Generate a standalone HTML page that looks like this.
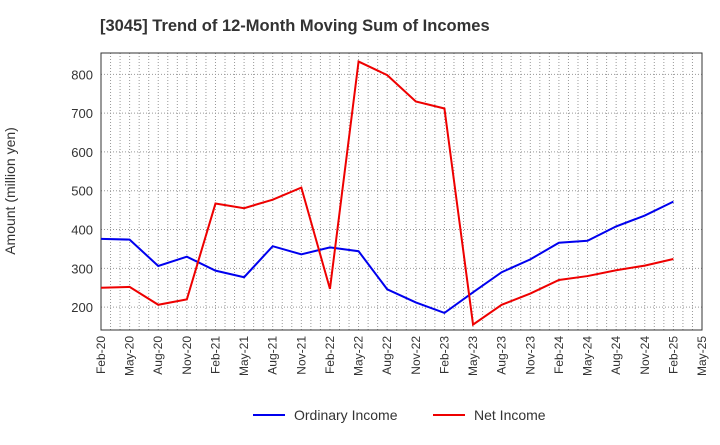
<!DOCTYPE html>
<html><head><meta charset="utf-8"><style>
body{margin:0;background:#fff;font-family:"Liberation Sans",sans-serif;}
</style></head><body>
<svg width="720" height="440" xmlns="http://www.w3.org/2000/svg">
<text x="100" y="31" font-size="16.5" font-weight="bold" fill="#333">[3045]  Trend of 12-Month Moving Sum of Incomes</text>
<text transform="translate(15,191) rotate(-90)" text-anchor="middle" font-size="14" fill="#333">Amount (million yen)</text>
<g id="grid"></g><g id="axes"></g><g id="series"></g>
<g>
<line x1="253" y1="415" x2="285" y2="415" stroke="#0000ee" stroke-width="2"/>
<text x="294" y="420" font-size="14" fill="#333">Ordinary Income</text>
<line x1="433" y1="415" x2="465" y2="415" stroke="#ee0000" stroke-width="2"/>
<text x="474" y="420" font-size="14" fill="#333">Net Income</text>
</g>
</svg>
<script>
const categories=["Feb-20","May-20","Aug-20","Nov-20","Feb-21","May-21","Aug-21","Nov-21","Feb-22","May-22","Aug-22","Nov-22","Feb-23","May-23","Aug-23","Nov-23","Feb-24","May-24","Aug-24","Nov-24","Feb-25","May-25"];
const ordinaryIncome=[376,374,306,330,294,277,357,336,354,344,246,212,185,238,290,323,366,371,408,436,472];
const netIncome=[250,252,206,220,467,455,477,508,247,833,798,730,712,155,206,235,270,280,295,307,324];
const yTicks=[200,300,400,500,600,700,800];
const NS="http://www.w3.org/2000/svg";
const L=101,R=702,T=53,B=330,yMin=141,yMax=855;
const xs=i=>L+(R-L)*i/(categories.length-1);
const ys=v=>B-(v-yMin)/(yMax-yMin)*(B-T);
function mk(tag,at,parent){const e=document.createElementNS(NS,tag);for(const k in at)e.setAttribute(k,at[k]);document.getElementById(parent).appendChild(e);return e;}
for(let m=1;m<(categories.length-1)*3;m++){const x=L+(R-L)*m/((categories.length-1)*3);
const g=mk('line',{x1:x,y1:T,x2:x,y2:B,stroke:'#999','stroke-dasharray':'1,2','stroke-width':1},'grid');

}
yTicks.forEach(v=>{const g=mk('line',{x1:L,y1:ys(v),x2:R,y2:ys(v),stroke:'#999','stroke-dasharray':'1,2'},'grid');


const t=mk('text',{x:L-8,y:ys(v)+5,'text-anchor':'end','font-size':13,fill:'#333'},'axes');t.textContent=v;

});
categories.forEach((c,i)=>{const t=mk('text',{transform:`translate(${xs(i)+4},${B+6}) rotate(-90)`,'text-anchor':'end','font-size':12,fill:'#333'},'axes');t.textContent=c;

});
const fr=mk('rect',{x:L,y:T,width:R-L,height:B-T,fill:'none',stroke:'#333','stroke-width':1},'axes');


[[ordinaryIncome,'#0000ee','ordinary-income-line'],[netIncome,'#ee0000','net-income-line']].forEach(([d,c,n])=>{
const p=mk('polyline',{points:d.map((v,i)=>xs(i)+','+ys(v)).join(' '),fill:'none',stroke:c,'stroke-width':2},'series');

});
</script>
</body></html>
